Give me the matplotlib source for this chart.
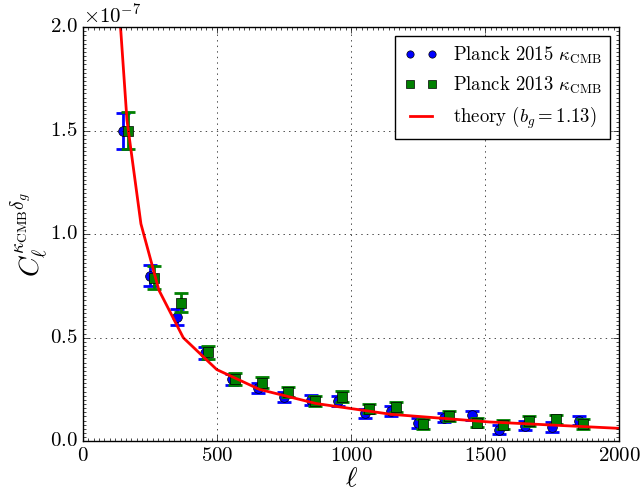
import matplotlib
matplotlib.use("Agg")
import matplotlib.pyplot as plt
from matplotlib.ticker import MultipleLocator

plt.style.use("classic")
plt.rcParams["font.family"] = "serif"
plt.rcParams["font.serif"] = ["cmr10"]
plt.rcParams["mathtext.fontset"] = "cm"
plt.rcParams["axes.formatter.use_mathtext"] = True
plt.rcParams["axes.unicode_minus"] = False

# Planck 2015 kappa_CMB x galaxies
ell_2015 = [150, 250, 350, 455, 555, 652, 750, 850, 951, 1052, 1150, 1248, 1348, 1450, 1550, 1649, 1749, 1849]
cl_2015 = [1.50, 0.80, 0.60, 0.425, 0.30, 0.256, 0.214, 0.198, 0.193, 0.134, 0.145, 0.088,
           0.114, 0.126, 0.056, 0.074, 0.069, 0.098]
err_2015 = [0.087, 0.052, 0.040, 0.030, 0.026, 0.025, 0.024, 0.024, 0.024, 0.023, 0.023, 0.022,
            0.022, 0.022, 0.022, 0.022, 0.022, 0.022]

# Planck 2013 kappa_CMB x galaxies
ell_2013 = [167, 266, 366, 466, 567, 667, 766, 866, 966, 1067, 1168, 1267, 1366, 1469, 1566, 1665, 1764, 1864]
cl_2013 = [1.50, 0.79, 0.67, 0.43, 0.30, 0.283, 0.238, 0.193, 0.216, 0.158, 0.166, 0.082,
           0.122, 0.090, 0.080, 0.097, 0.106, 0.082]
err_2013 = [0.090, 0.055, 0.048, 0.032, 0.028, 0.027, 0.026, 0.025, 0.025, 0.024, 0.024, 0.023,
            0.023, 0.023, 0.023, 0.023, 0.023, 0.023]

# theory curve, b_g = 1.13
ell_th = [124, 164, 216, 283, 374, 499, 659, 870, 1149, 1517, 2003]
cl_th = [2.30, 1.55, 1.05, 0.73, 0.50, 0.346, 0.250, 0.182, 0.130, 0.093, 0.062]

scale = 1e-7

fig = plt.figure(figsize=(6.41, 4.93), dpi=100)
ax = fig.add_axes([0.1295, 0.105, 0.8365, 0.84])

ax.errorbar(ell_2015, [v * scale for v in cl_2015], yerr=[v * scale for v in err_2015],
            fmt="none", ecolor="b", elinewidth=2, capsize=5, capthick=2)
ax.plot(ell_2015, [v * scale for v in cl_2015], "bo", markersize=7, markeredgecolor="k",
        label=r"Planck 2015 $\kappa_{\rm CMB}$")
ax.errorbar(ell_2013, [v * scale for v in cl_2013], yerr=[v * scale for v in err_2013],
            fmt="none", ecolor="g", elinewidth=2, capsize=5, capthick=2)
ax.plot(ell_2013, [v * scale for v in cl_2013], "gs", markersize=7, markeredgecolor="k",
        label=r"Planck 2013 $\kappa_{\rm CMB}$")
ax.plot(ell_th, [v * scale for v in cl_th], "r-", linewidth=2,
        label=r"theory ($b_g=1.13$)")

ax.set_xlim(0, 2000)
ax.set_ylim(0, 2.0e-7)
ax.xaxis.set_major_locator(MultipleLocator(500))
ax.yaxis.set_major_locator(MultipleLocator(0.5e-7))
ax.xaxis.set_minor_locator(MultipleLocator(20))
ax.yaxis.set_minor_locator(MultipleLocator(0.02e-7))
ax.tick_params(labelsize=15)
ax.yaxis.get_offset_text().set_fontsize(15)
ax.grid(True, color="k", linestyle=":")

ax.set_xlabel(r"$\ell$", fontsize=20, labelpad=1)
ax.set_ylabel(r"$C_\ell^{\kappa_{\rm CMB}\delta_g}$", fontsize=20, labelpad=0)

ax.legend(loc="upper right", numpoints=2, fontsize=13.5, markerscale=0.75,
          handlelength=1.8, borderpad=0.45, labelspacing=0.45)

fig.savefig("out.png", dpi=100)
